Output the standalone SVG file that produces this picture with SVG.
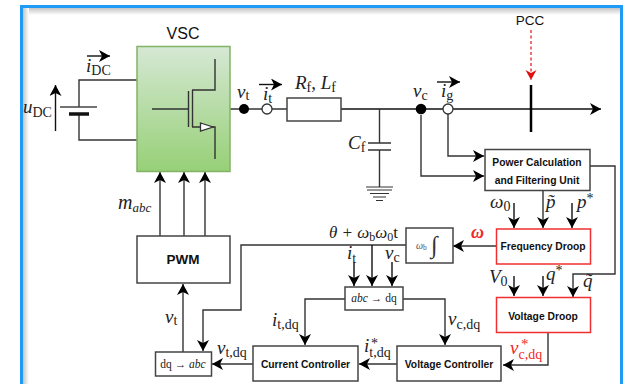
<svg xmlns="http://www.w3.org/2000/svg" width="625" height="384" viewBox="0 0 625 384">
<style>
.w{fill:none;stroke:#333;stroke-width:1.4}
.k{fill:none;stroke:#111;stroke-width:1.4}
.a{marker-end:url(#ar)}
.b{fill:#fff;stroke:#444;stroke-width:1.5}
.r{fill:#fff;stroke:#f03030;stroke-width:1.5}
.t{font-family:"Liberation Sans",Arial,sans-serif;font-weight:bold;fill:#111;text-anchor:middle;font-size:10.300px}
.m{font-family:"Liberation Serif","Times New Roman",serif;font-style:italic;fill:#222;font-size:19px}
.m tspan.s{font-style:normal;font-size:14px}
.m tspan.i{font-size:13px}
.o{font-family:"Liberation Serif","Times New Roman",serif;font-style:normal;fill:#222;font-size:12px}
.n{font-family:"Liberation Serif","Times New Roman",serif;fill:#222;font-size:11.500px;text-anchor:middle}
.h{font-family:"Liberation Sans",Arial,sans-serif;fill:#111;text-anchor:middle}
</style>
<defs>
<marker id="ar" markerUnits="userSpaceOnUse" markerWidth="14" markerHeight="14" refX="11" refY="6" orient="auto"><path d="M0 0L11 6L0 12L3 6Z" fill="#000"/></marker>
<marker id="rd" markerUnits="userSpaceOnUse" markerWidth="14" markerHeight="14" refX="10" refY="5.500" orient="auto"><path d="M0 0L10 5.500L0 11L3 5.500Z" fill="#e01010"/></marker>
<linearGradient id="g" x1="0" y1="0" x2="0" y2="1"><stop offset="0" stop-color="#d5e8d4"/><stop offset="1" stop-color="#97d077"/></linearGradient>
<linearGradient id="st" x1="0" y1="0" x2="0" y2="1"><stop offset="0" stop-color="#c4c4c4"/><stop offset="1" stop-color="#fff"/></linearGradient>
<linearGradient id="sl" x1="0" y1="0" x2="1" y2="0"><stop offset="0" stop-color="#c4c4c4"/><stop offset="1" stop-color="#fff"/></linearGradient>
</defs>
<rect width="625" height="384" fill="#fff"/>
<g id="frame">
<rect x="23" y="8" width="598" height="7" fill="url(#st)"/>
<rect x="23" y="8" width="6" height="376" fill="url(#sl)"/>
<rect x="21.500" y="6.500" width="600" height="420" fill="none" stroke="#1f9bf5" stroke-width="3"/>
</g>
<g id="connectors">
<path class="w" d="M137 80H79V107M79 114V140H137"/>
<path class="k a" d="M55.500 131V85"/>
<path class="k a" d="M87 56H110"/>
<path class="k a" d="M259 84.500H282"/>
<path class="k a" d="M437 82H460"/>
<path class="w" d="M230 109H287"/>
<path class="k a" d="M341 109H601"/>
<path class="w" d="M379.500 109V143M379.500 150V187"/>
<path class="w a" d="M448 114V156H484"/>
<path class="w a" d="M421 115V176H484"/>
<path class="w a" d="M590 166H615V274H573V297"/>
<path class="w a" d="M543 190V228"/>
<path class="k a" d="M514 203V228"/>
<path class="k a" d="M572 203V228"/>
<path class="w a" d="M496 246H453"/>
<path class="w a" d="M406 245H241V310H203V351"/>
<path class="k a" d="M354 262V286"/>
<path class="k a" d="M372 245V286"/>
<path class="k a" d="M392 262V286"/>
<path class="w a" d="M345 299H305V345"/>
<path class="w a" d="M403 299H445V345"/>
<path class="w a" d="M397 364H359"/>
<path class="w a" d="M253 364H212"/>
<path class="w a" d="M183 352V284"/>
<path class="w a" d="M160 236V172"/>
<path class="w a" d="M184 236V172"/>
<path class="w a" d="M205 236V172"/>
<path class="k a" d="M514 276V296"/>
<path class="k a" d="M543 276V296"/>
<path class="w a" d="M548 332V365H503"/>
<path d="M531 30V80" fill="none" stroke="#e01010" stroke-width="1.200" stroke-dasharray="3 2.500" marker-end="url(#rd)"/>
</g>
<g id="battery">
<path d="M60 107H97" stroke="#444" stroke-width="1.400"/>
<path d="M69 114H89" stroke="#111" stroke-width="3.500"/>
</g>
<g id="vsc">
<rect x="137" y="46.500" width="93" height="125" fill="url(#g)" stroke="#82b366" stroke-width="1.500"/>
<path class="w" d="M152 109H188M188.500 91V127M192 90H215V59M192 127H215V159"/>
<path d="M192.500 90V127" stroke="#333" stroke-width="1.400"/>
<path d="M200.500 123L213 127L200.500 131Z" fill="#fff" stroke="#333" stroke-width="1.300"/>
<text class="h" x="183" y="39" font-size="16">VSC</text>
</g>
<g id="terminals">
<circle cx="244" cy="109" r="5" fill="#000"/>
<circle cx="267" cy="109" r="5" fill="#fff" stroke="#333" stroke-width="1.300"/>
<circle cx="421" cy="109" r="5.300" fill="#000"/>
<circle cx="448" cy="109" r="5" fill="#fff" stroke="#333" stroke-width="1.300"/>
</g>
<g id="filter-r">
<rect class="b" x="287" y="98" width="54" height="23"/>
</g>
<g id="cap">
<path d="M368 143H391M368 150H391" stroke="#333" stroke-width="1.400"/>
<path d="M366 187H393M367 190H392M370 193.500H389M373 197H386M376 200.500H383" stroke="#333" stroke-width="1"/>
</g>
<g id="pcc">
<path d="M531 85V132" stroke="#000" stroke-width="2.500"/>
<text class="h" x="530" y="25" font-size="13.500">PCC</text>
</g>
<g id="power"><rect class="b" x="485" y="149.500" width="105" height="41"/>
<text class="t" x="537" y="166">Power Calculation</text><text class="t" x="537" y="184">and Filtering Unit</text></g>
<g id="freq"><rect class="r" x="496.500" y="229" width="94" height="35"/><text class="t" x="543" y="250">Frequency Droop</text></g>
<g id="volt"><rect class="r" x="496.500" y="297.500" width="94" height="35"/><text class="t" x="543" y="320">Voltage Droop</text></g>
<g id="int"><rect class="b" x="406" y="228" width="47" height="35"/>
<text x="416" y="249" class="m" style="font-size:10px;fill:#555">ω<tspan style="font-style:normal;font-size:7.500px" dy="1">b</tspan></text>
<text x="431" y="253" class="m" style="font-size:24px;fill:#333">∫</text></g>
<g id="abcdq"><rect class="b" x="345" y="287" width="58" height="23"/>
<text x="374" y="302" class="n"><tspan font-style="italic">abc</tspan> → dq</text></g>
<g id="dqabc"><rect class="b" x="155.500" y="352" width="56" height="24"/>
<text x="183" y="368" class="n">dq → <tspan font-style="italic">abc</tspan></text></g>
<g id="pwm"><rect class="b" x="137" y="236" width="93" height="47"/><text class="t" x="183" y="264" style="font-size:13.500px">PWM</text></g>
<g id="cc"><rect class="b" x="253" y="346" width="105" height="35"/><text class="t" x="305.500" y="368">Current Controller</text></g>
<g id="vc"><rect class="b" x="397" y="346" width="104" height="35"/><text class="t" x="449" y="368">Voltage Controller</text></g>
<g id="labels">
<text class="m" x="86" y="72">i<tspan class="s" dy="3">DC</tspan></text>
<text class="m" x="23" y="113">u<tspan class="s" dy="4">DC</tspan></text>
<text class="m" x="237" y="98">v<tspan class="s" dy="2">t</tspan></text>
<text class="m" x="263" y="100">i<tspan class="s" dy="3">t</tspan></text>
<text class="m" x="295" y="89">R<tspan class="s" dy="3">f</tspan><tspan dy="-3" font-style="normal">, </tspan>L<tspan class="s" dy="3">f</tspan></text>
<text class="m" x="413" y="97">v<tspan class="s" dy="3">c</tspan></text>
<text class="m" x="441" y="97">i<tspan class="s" dy="3">g</tspan></text>
<text class="m" x="348" y="149">C<tspan class="s" dy="3">f</tspan></text>
<text class="m" x="118" y="209" style="font-size:20px">m<tspan class="i" dy="3">abc</tspan></text>
<text class="m" x="165" y="323">v<tspan class="s" dy="2">t</tspan></text>
<text class="m" x="217" y="354">v<tspan class="s" dy="3">t,dq</tspan></text>
<text class="m" x="272" y="326">i<tspan class="s" dy="3">t,dq</tspan></text>
<text class="m" x="364" y="352">i<tspan class="s" dy="5">t,dq</tspan></text>
<text class="o" x="371" y="348" style="font-size:14px">*</text>
<text class="m" x="448" y="325">v<tspan class="s" dy="4">c,dq</tspan></text>
<text class="m" x="510" y="354" style="fill:#f02828">v<tspan class="s" dy="5">c,dq</tspan></text>
<text class="o" x="521" y="349" style="font-size:15px;fill:#f02828">*</text>
<text class="m" x="329" y="238" style="font-size:17px">θ + ω<tspan style="font-style:normal;font-size:12px" dy="3">b</tspan><tspan dy="-3">ω</tspan><tspan style="font-style:normal;font-size:12px" dy="3">0</tspan><tspan dy="-3" font-style="normal">t</tspan></text>
<text class="m" x="347" y="259">i<tspan class="s" dy="4">t</tspan></text>
<text class="m" x="385" y="259">v<tspan class="s" dy="3">c</tspan></text>
<text class="m" x="490" y="208">ω<tspan class="s" dy="3">0</tspan></text>
<text class="m" x="546" y="208">p̃</text>
<text class="m" x="577" y="208">p<tspan class="s" dy="-5">*</tspan></text>
<text class="m" x="489" y="283">V<tspan class="s" dy="3">0</tspan></text>
<text class="m" x="546" y="280">q<tspan class="s" dy="-5">*</tspan></text>
<text class="m" x="583" y="287">q̃</text>
<text class="m" x="471" y="238" style="fill:#f02828;font-weight:bold;font-size:18px">ω</text>
</g>
</svg>
